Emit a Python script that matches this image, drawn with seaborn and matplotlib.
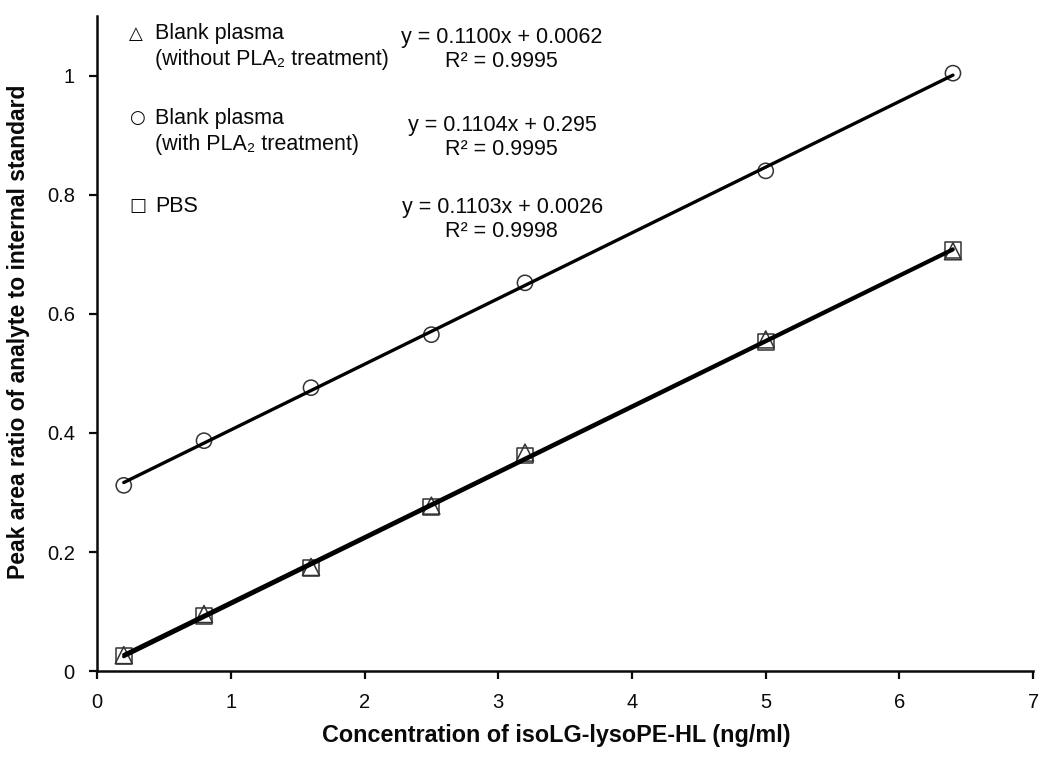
import numpy as np
import pandas as pd
import matplotlib
matplotlib.use("Agg")
import matplotlib.pyplot as plt
import seaborn as sns
from matplotlib.ticker import FuncFormatter

# concentrations (ng/ml)
conc = [0.2, 0.8, 1.6, 2.5, 3.2, 5.0, 6.4]

# peak area ratios
no_pla2 = [0.027, 0.096, 0.175, 0.278, 0.367, 0.557, 0.705]    # triangles
with_pla2 = [0.312, 0.387, 0.476, 0.565, 0.652, 0.840, 1.004]  # circles
pbs = [0.025, 0.093, 0.173, 0.275, 0.362, 0.552, 0.707]        # squares

eq_text = [("y = 0.1100x + 0.0062", "R² = 0.9995"),
           ("y = 0.1104x + 0.295", "R² = 0.9995"),
           ("y = 0.1103x + 0.0026", "R² = 0.9998")]

sns.set_style("ticks")
plt.rcParams['font.family'] = ['Liberation Sans', 'DejaVu Sans']

df = pd.DataFrame({"conc": conc * 3,
                   "ratio": pbs + no_pla2 + with_pla2,
                   "series": ["PBS"] * 7 + ["no"] * 7 + ["with"] * 7})

fig = plt.figure(figsize=(10.5, 7.61), dpi=100)
ax = fig.add_axes([0.0924, 0.118, 0.8916, 0.861])

markers = {"PBS": "s", "no": "^", "with": "o"}
sizes = {"PBS": 130, "no": 150, "with": 120}
for name in ["PBS", "no", "with"]:
    sub = df[df.series == name]
    sns.scatterplot(data=sub, x="conc", y="ratio", marker=markers[name], s=sizes[name],
                    facecolor="none", edgecolor="#333333", linewidth=1.1, ax=ax, zorder=2)

for name in ["PBS", "no", "with"]:
    sub = df[df.series == name]
    sns.regplot(data=sub, x="conc", y="ratio", scatter=False, ci=None, ax=ax,
                line_kws=dict(color="black", lw=2.4, zorder=3))

ax.set_xlim(0, 7)
ax.set_ylim(0, 1.1)
ax.set_xticks(range(0, 8))
ax.set_yticks([0, 0.2, 0.4, 0.6, 0.8, 1.0])
ax.yaxis.set_major_formatter(FuncFormatter(lambda v, p: f"{v:g}"))
ax.tick_params(direction="out", length=6, width=1.6, labelsize=14.5, colors="#0a0a0a", pad=10)
for s in ["left", "bottom"]:
    ax.spines[s].set_linewidth(1.8)
    ax.spines[s].set_color("#0a0a0a")
sns.despine(ax=ax)

ax.set_xlabel("Concentration of isoLG-lysoPE-HL (ng/ml)", fontsize=16.8, fontweight="bold", color="#0a0a0a")
ax.set_ylabel("Peak area ratio of analyte to internal standard", fontsize=16.5, fontweight="bold", color="#0a0a0a")
ax.xaxis.set_label_coords(0.491, -0.08)
ax.yaxis.set_label_coords(-0.072, 0.518)


# legend-like annotations, positioned in pixel coordinates of the original
def px(xp, yp):
    return ((xp - 97) / 936, (671 - yp) / 655)


tkw = dict(transform=ax.transAxes, fontsize=15.5, color="#0a0a0a", va="center")
labels = [("△", "Blank plasma", "(without PLA₂ treatment)", 34, 38),
          ("○", "Blank plasma", "(with PLA₂ treatment)", 118, 125),
          ("□", "PBS", None, 206, 207)]
for (sym, l1, l2, yl, ye), (e1, e2) in zip(labels, eq_text):
    ax.text(*px(129, yl), sym, ha="left", fontsize=13, transform=ax.transAxes,
            color="#0a0a0a", va="center", family=['DejaVu Sans'])
    ax.text(*px(155, yl), l1, ha="left", **tkw)
    if l2:
        ax.text(*px(155, yl + 26), l2, ha="left", **tkw)
    ax.text(*px(502, ye), e1, ha="center", **tkw)
    ax.text(*px(501, ye + 24), e2, ha="center", **tkw)

fig.savefig("out.png", dpi=100)
